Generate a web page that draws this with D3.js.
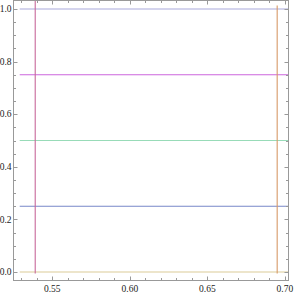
<!DOCTYPE html>
<html>
<head>
<meta charset="utf-8">
<script src="https://cdn.jsdelivr.net/npm/d3@7"></script>
<style>
  html, body { margin: 0; padding: 0; background: #fff; }
  svg text { font-family: 'Liberation Serif', 'DejaVu Serif', serif; font-size: 9.5px; fill: #222; }
</style>
</head>
<body>
<svg id="chart" width="295" height="292"></svg>
<script>
// horizontal reference lines (y level, x extent)
const hLevels = [0, 0.25, 0.5, 0.75, 1.0];
const hColors = ['#dccb98', '#7787c8', '#98dbb8', '#cc66dd', '#aaaadc'];
const hExtent = [0.529, 0.7023];

// vertical lines (x position, y extent)
const vPositions = [0.539, 0.695];
const vTops = [1.0324, 1.013];
const vColors = ['#c8689a', '#d89a68'];
const vBottom = -0.006;

const xMajor = [0.55, 0.60, 0.65, 0.70];
const yMajor = [0, 0.2, 0.4, 0.6, 0.8, 1.0];

const svg = d3.select('#chart');

const x = d3.scaleLinear().domain([0.525, 0.7023]).range([13.5, 288.5]);
const y = d3.scaleLinear().domain([-0.0324, 1.0324]).range([280.5, 0.5]);

// lines
svg.append('g')
  .selectAll('line')
  .data(hLevels)
  .enter()
  .append('line')
  .attr('x1', x(hExtent[0]))
  .attr('x2', x(hExtent[1]))
  .attr('y1', (d) => y(d))
  .attr('y2', (d) => y(d))
  .attr('stroke', (d, i) => hColors[i])
  .attr('stroke-width', 1.1);

svg.append('g')
  .selectAll('line')
  .data(vPositions)
  .enter()
  .append('line')
  .attr('x1', (d) => x(d))
  .attr('x2', (d) => x(d))
  .attr('y1', y(vBottom))
  .attr('y2', (d, i) => y(vTops[i]))
  .attr('stroke', (d, i) => vColors[i])
  .attr('stroke-width', 1.1);

// frame with inward ticks
const frameColor = '#999';
const [x0, x1] = x.range();
const [y0, y1] = y.range();

svg.append('rect')
  .attr('x', x0)
  .attr('y', y1)
  .attr('width', x1 - x0)
  .attr('height', y0 - y1)
  .attr('fill', 'none')
  .attr('stroke', frameColor)
  .attr('stroke-width', 1);

const xTicks = d3.range(53, 71).map((v) => v / 100);
const yTicks = d3.range(0, 21).map((v) => v / 20);
const isMajorX = (v) => Math.round(v * 100) % 5 === 0;
const isMajorY = (v) => Math.round(v * 100) % 20 === 0;

const ticks = svg.append('g').attr('stroke', frameColor).attr('stroke-width', 1);

xTicks.forEach((v) => {
  const len = isMajorX(v) ? 4 : 2.5;
  const px = Math.round(x(v)) + 0.5;
  ticks.append('line').attr('x1', px).attr('x2', px).attr('y1', y0).attr('y2', y0 - len);
  ticks.append('line').attr('x1', px).attr('x2', px).attr('y1', y1).attr('y2', y1 + len);
});

yTicks.forEach((v) => {
  const len = isMajorY(v) ? 4 : 2.5;
  const py = Math.round(y(v)) + 0.5;
  ticks.append('line').attr('x1', x0).attr('x2', x0 + len).attr('y1', py).attr('y2', py);
  ticks.append('line').attr('x1', x1).attr('x2', x1 - len).attr('y1', py).attr('y2', py);
});

// labels
svg.append('g')
  .selectAll('text')
  .data(xMajor)
  .enter()
  .append('text')
  .attr('x', (d) => x(d))
  .attr('y', y0 + 11)
  .attr('text-anchor', 'middle')
  .text((d) => d3.format('.2f')(d));

svg.append('g')
  .selectAll('text')
  .data(yMajor)
  .enter()
  .append('text')
  .attr('x', x0 - 2)
  .attr('y', (d) => y(d) + 3.2)
  .attr('text-anchor', 'end')
  .text((d) => d3.format('.1f')(d));
</script>
</body>
</html>
